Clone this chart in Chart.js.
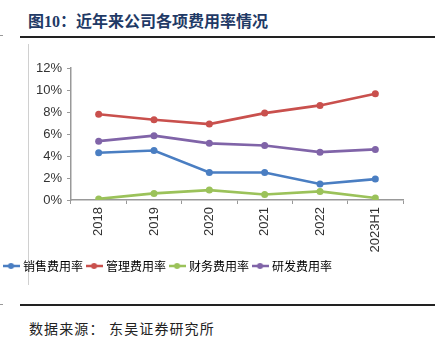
<!DOCTYPE html>
<html><head><meta charset="utf-8">
<script src="https://cdn.jsdelivr.net/npm/chart.js@4.4.0/dist/chart.umd.min.js"></script>
<style>
html,body{margin:0;padding:0;background:#fff;width:435px;height:344px;overflow:hidden;position:relative;}
#title{position:absolute;left:28px;top:8px;font-family:"Liberation Serif","Noto Sans CJK SC";font-weight:bold;font-size:16px;color:#1f3a66;white-space:nowrap;}
#src{position:absolute;left:29px;top:318px;font-family:"Liberation Serif","Noto Sans CJK SC";font-size:14px;color:#222;white-space:nowrap;letter-spacing:1.1px;}
.hl{position:absolute;background:#222;}
.vl{position:absolute;background:#d0d0d0;}
#wrap{position:absolute;left:0;top:40px;width:420px;height:242px;}
</style></head>
<body>
<div id="title">图10：近年来公司各项费用率情况</div>
<div class="hl" style="left:20px;top:36px;width:415px;height:2px;"></div>
<div class="hl" style="left:0;top:35px;width:3px;height:1px;background:#999"></div>
<div class="vl" style="left:28px;top:44px;width:1px;height:241px;"></div>
<div class="hl" style="left:20px;top:304px;width:415px;height:2px;"></div>
<div class="hl" style="left:0;top:304px;width:3px;height:1px;background:#999"></div>
<div id="src">数据来源：&nbsp;东吴证券研究所</div>
<div id="wrap"><canvas id="c"></canvas></div>
<script>
const categories = ["2018","2019","2020","2021","2022","2023H1"];
const salesRate = [4.3, 4.5, 2.5, 2.5, 1.45, 1.9];
const mgmtRate = [7.8, 7.3, 6.9, 7.9, 8.6, 9.65];
const finRate = [0.1, 0.6, 0.9, 0.5, 0.78, 0.18];
const rdRate = [5.35, 5.85, 5.15, 4.95, 4.35, 4.6];
const yTicks = [0, 2, 4, 6, 8, 10, 12];
const seriesNames = ["销售费用率","管理费用率","财务费用率","研发费用率"];
const colors = ["#4a7ec2","#c9504d","#9bc25a","#8064a8"];

function marker(col){
  const cv=document.createElement('canvas'); cv.width=17; cv.height=8;
  const g=cv.getContext('2d');
  g.strokeStyle=col; g.lineWidth=2.5; g.beginPath(); g.moveTo(0,4); g.lineTo(17,4); g.stroke();
  g.fillStyle=col; g.beginPath(); g.arc(8.5,4,3,0,Math.PI*2); g.fill();
  return cv;
}
const data=[salesRate,mgmtRate,finRate,rdRate];
const datasets=data.map((d,i)=>({
  label:seriesNames[i], data:d, borderColor:colors[i], backgroundColor:colors[i],
  borderWidth:2.6, pointRadius:3.5, pointHoverRadius:3.5, pointBackgroundColor:colors[i], pointBorderWidth:0, tension:0
}));
new Chart(document.getElementById('c'),{
  type:'line',
  data:{labels:categories,datasets},
  options:{
    responsive:true, maintainAspectRatio:false, animation:false,
    layout:{padding:{top:28,right:17,left:0,bottom:0}},
    plugins:{
      tooltip:{enabled:false},
      legend:{position:'bottom',align:'start',
        labels:{usePointStyle:true,padding:5,boxHeight:8,font:{size:12,family:"Noto Sans CJK SC"},color:'#333',
          generateLabels:(ch)=>ch.data.datasets.map((ds,i)=>({text:ds.label,pointStyle:marker(colors[i]),fillStyle:colors[i],strokeStyle:colors[i],lineWidth:0,datasetIndex:i,hidden:false}))
        }}
    },
    scales:{
      x:{offset:true,
        grid:{offset:true,drawOnChartArea:false,tickLength:4,color:'#999'},
        border:{color:'#999',width:1.5},
        ticks:{maxRotation:90,minRotation:90,color:'#333',font:{size:13,family:"Liberation Sans"},padding:3},
        afterFit:(s)=>{s.height=55;}
      },
      y:{min:0,max:12,
        afterBuildTicks:(s)=>{s.ticks=yTicks.map(v=>({value:v}));},
        grid:{drawOnChartArea:false,tickLength:4,color:'#999'},
        border:{color:'#999',width:1.5},
        ticks:{color:'#333',font:{size:13,family:"Liberation Sans"},padding:5,callback:(v)=>v+'%'},
        afterFit:(s)=>{s.width=71;}
      }
    }
  }
});
</script>
</body></html>
